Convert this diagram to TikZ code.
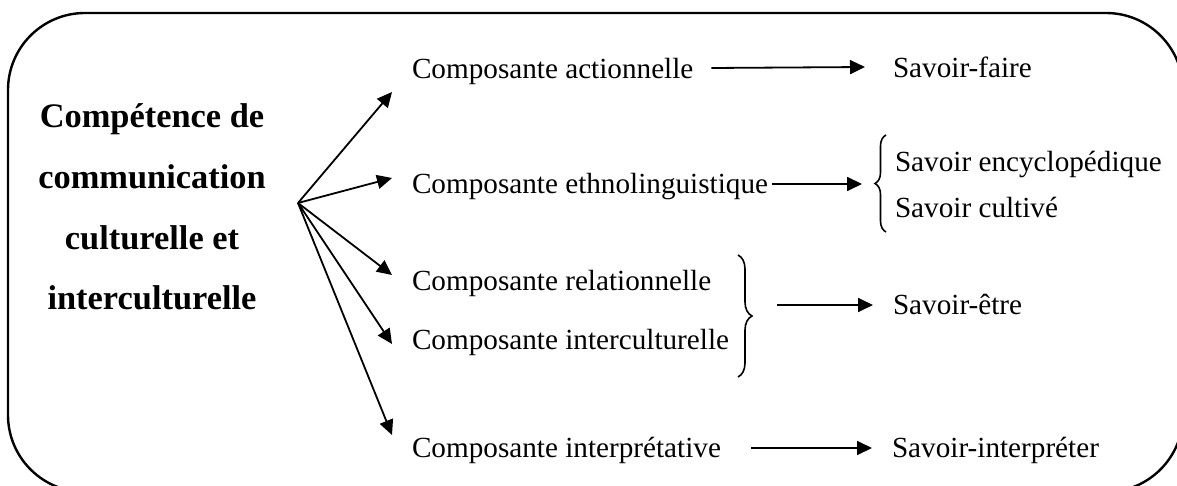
\documentclass[tikz,border=0pt]{standalone}
\usepackage{fontspec}
\setmainfont{Liberation Serif}
\usetikzlibrary{arrows.meta,decorations.pathreplacing,calc}

\begin{document}
\begin{tikzpicture}[
    x=0.5pt, y=-0.5pt,
    every node/.style={
        inner sep=0pt,
        outer sep=0pt,
    },
    frame/.style={
        draw,
        line width=1.2pt,
        rounded corners=38.5pt,
    },
    title/.style={
        align=center,
        font=\bfseries\fontsize{17.2}{30.3}\selectfont,
    },
    comp/.style={
        anchor=base west,
        text height=10pt,
        text depth=3.5pt,
        font=\fontsize{14.6}{17}\selectfont,
    },
    fan/.style={
        line width=0.9pt,
        -{Triangle[length=7.5pt,width=7pt]},
    },
    curly/.style={
        decorate,
        decoration={brace,amplitude=#1},
        line width=0.8pt,
    }
]
    \useasboundingbox (0,0) rectangle (1177,486);
    \draw[frame] (8,13) rectangle (1183,492);

    \node[title] (title) at (152,207) {Compétence de\\communication\\culturelle et\\interculturelle};
    \coordinate (hub) at (298,203);

    \node[comp] (act) at (412,78.5) {Composante actionnelle};
    \node[comp] (eth) at (412,193.5) {Composante ethnolinguistique};
    \node[comp] (rel) at (412,290.5) {Composante relationnelle};
    \node[comp] (intc) at (412,349.5) {Composante interculturelle};
    \node[comp] (intp) at (412,457.5) {Composante interprétative};

    \node[comp] (faire) at (893,77.5) {Savoir-faire};
    \node[comp] (enc) at (895,171.5) {Savoir encyclopédique};
    \node[comp] (cult) at (895,217.5) {Savoir cultivé};
    \node[comp] (etre) at (893,314.5) {Savoir-être};
    \node[comp] (interp) at (892,457.5) {Savoir-interpréter};

    \foreach \n/\dy in {act/-10, eth/4.5, rel/4.5, intc/-0.5, intp/8}{
        \draw[fan] (hub) -- ([xshift=-10pt,yshift=\dy pt]\n.west);
    }

    % braces
    \draw[curly=5.5pt] ([xshift=-4.5pt,yshift=-10.5pt]cult.west) -- ([xshift=-4.5pt,yshift=15pt]enc.west);
    \draw[curly=7pt] (738,255) -- (738,377);
    \coordinate (b2) at ($(enc.west)!.5!(cult.west)+(-20,-4)$);
    \coordinate (b3) at (753,305);

    \draw[fan] ([xshift=9pt,yshift=2pt]act.east) -- ([xshift=-14pt,yshift=2pt]faire.west);
    \draw[fan] ([xshift=2pt,yshift=1.5pt]eth.east) -- ([xshift=-6.5pt]b2);
    \draw[fan] ([xshift=12pt]b3) -- ([xshift=-10pt,yshift=1.5pt]etre.west);
    \draw[fan] ([xshift=15pt,yshift=1.5pt]intp.east) -- ([xshift=-10pt,yshift=1.5pt]interp.west);
\end{tikzpicture}
\end{document}
